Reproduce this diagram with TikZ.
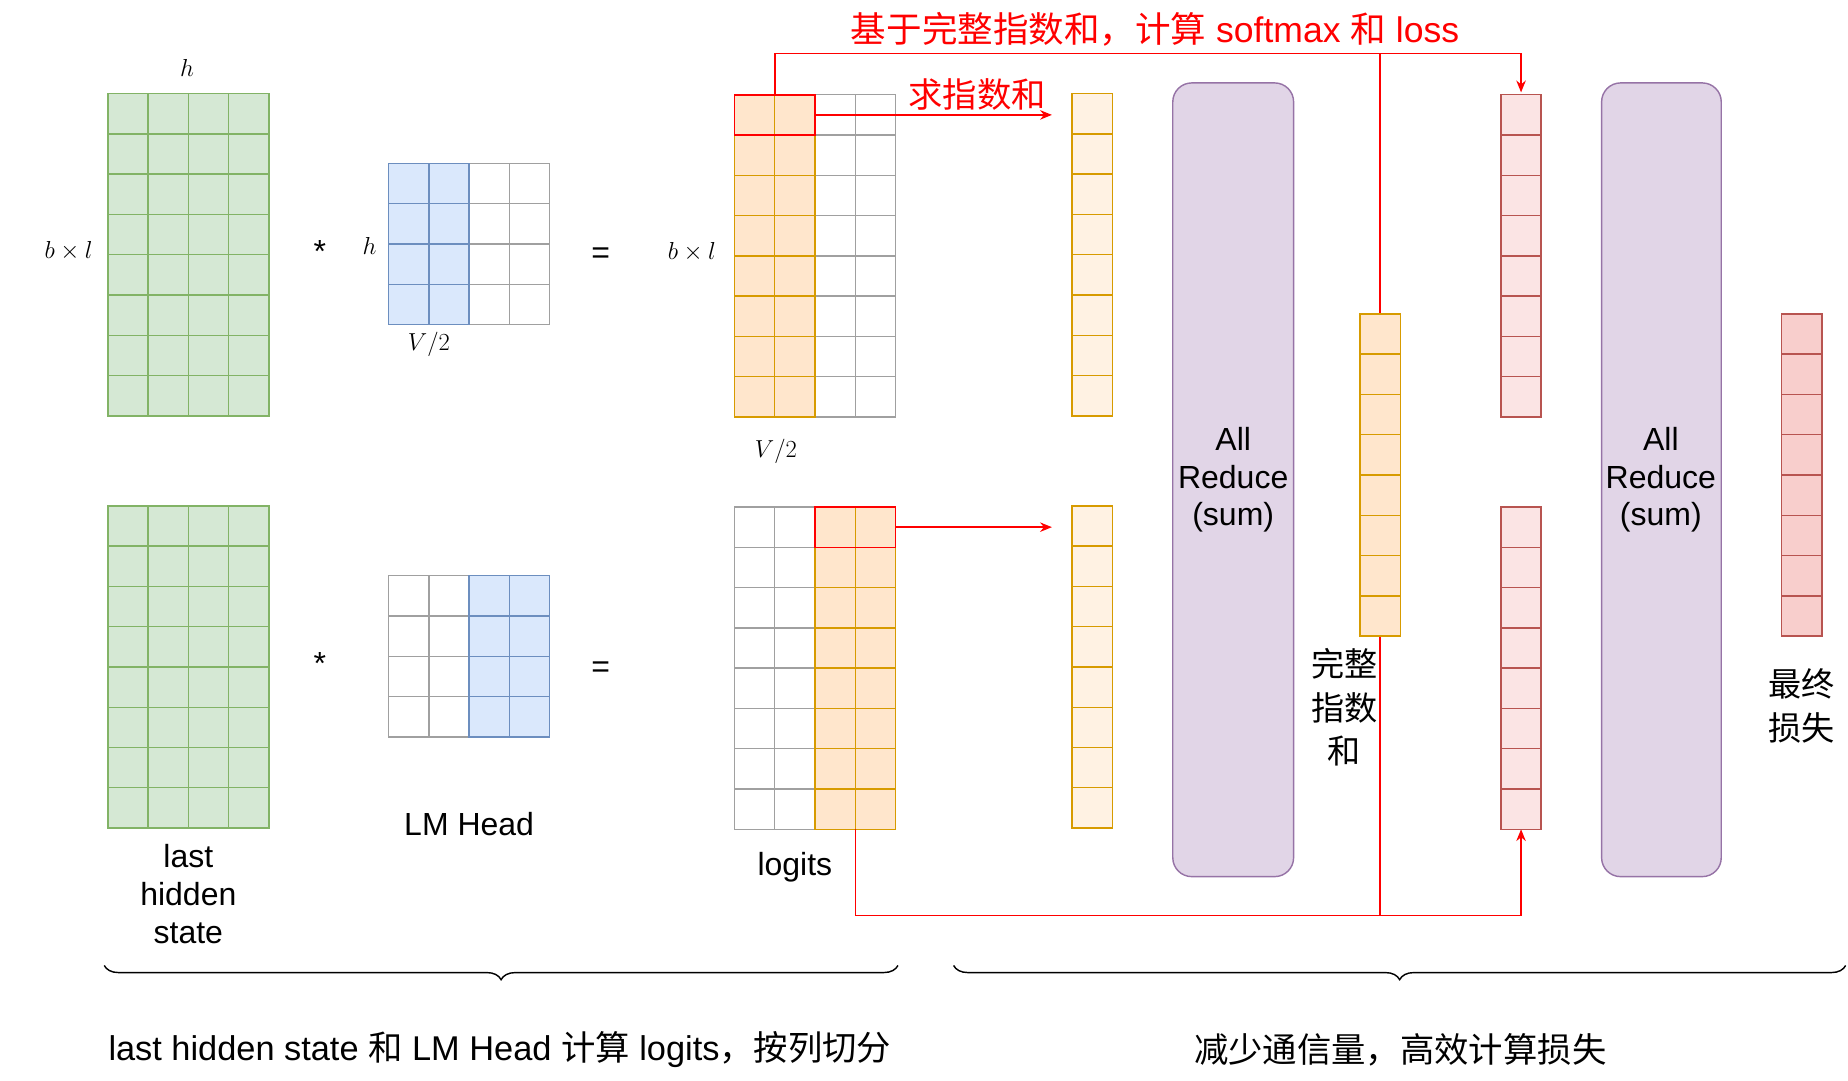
\documentclass[tikz,border=0pt]{standalone}
\usepackage{fontspec}
\setmainfont{Liberation Sans}
\newfontfamily\cjk{Noto Sans CJK SC}
\usetikzlibrary{decorations.pathreplacing,arrows.meta}
\definecolor{gF}{HTML}{D5E8D4}\definecolor{gD}{HTML}{82B366}
\definecolor{bF}{HTML}{DAE8FC}\definecolor{bD}{HTML}{6C8EBF}
\definecolor{oF}{HTML}{FFE6CC}\definecolor{oD}{HTML}{D79B00}
\definecolor{lF}{HTML}{FFF2E3}
\definecolor{rF}{HTML}{F8CECC}\definecolor{rD}{HTML}{B85450}
\definecolor{pF}{HTML}{E1D5E7}\definecolor{pD}{HTML}{9673A6}
\definecolor{wD}{HTML}{A0A0A0}
\definecolor{lr}{HTML}{FBE4E4}
\newcommand\mygrid[6]{% x0 y0 cols rows fill draw
  \foreach \i in {1,...,#3}{\foreach \j in {1,...,#4}{
    \draw[fill=#5,draw=#6,line width=1.2pt] ({#1+(\i-1)*34},{#2+(\j-1)*34}) rectangle ++(34,34);}}}
\begin{document}
\begin{tikzpicture}[x=1pt,y=-1pt,
  txt/.style={font=\fontsize{27}{32}\selectfont,align=center,inner sep=0},
  mth/.style={font=\fontsize{22}{26}\selectfont,inner sep=0},
  red arrow/.style={red,line width=1.3pt,-{Stealth[length=10pt,width=8pt]}},
  redline/.style={red,line width=1.3pt},
  ar/.style={rounded corners=16pt,fill=pF,draw=pD,line width=1.2pt}]
\useasboundingbox (0,0) rectangle (1560,911.7);
% left top
\mygrid{91}{79}{4}{8}{gF}{gD}
\node[mth] (h1) at (158,57) {$h$};
\node[mth] (bl1) at (58,212) {$b\times l$};
\node[txt] (s1) at (270,212) {*};
\mygrid{328}{138}{4}{4}{white}{wD}
\mygrid{328}{138}{2}{4}{bF}{bD}
\node[mth] (h2) at (312,208) {$h$};
\node[mth] (v1) at (362,291) {$V/2$};
\node[txt] (e1) at (507,216) {=};
\node[mth] (bl2) at (584,213) {$b\times l$};
\mygrid{620}{80}{4}{8}{white}{wD}
\mygrid{620}{80}{2}{8}{oF}{oD}
\draw[red,line width=1.3pt] (620,80) rectangle (688,114);
\node[mth] (v2) at (655,381) {$V/2$};
% left bottom
\mygrid{91}{427}{4}{8}{gF}{gD}
\node[txt] (s2) at (270,560) {*};
\mygrid{328}{486}{4}{4}{white}{wD}
\mygrid{396}{486}{2}{4}{bF}{bD}
\node[txt] (e2) at (507,565) {=};
\mygrid{620}{428}{4}{8}{white}{wD}
\mygrid{688}{428}{2}{8}{oF}{oD}
\draw[red,line width=1.3pt] (688,428) rectangle (756,462);
\node[txt] (lhs) at (159,755) {last\\hidden\\state};
\node[txt] (lmh) at (396,696) {LM Head};
\node[txt] (lg) at (671,732) {logits};
% vectors
\mygrid{905}{79}{1}{8}{lF}{oD}
\mygrid{905}{427}{1}{8}{lF}{oD}
\coordinate (t1) at (888,97); \coordinate (t2) at (888,445);
\coordinate (s1a) at (688,97); \coordinate (s2a) at (756,445);
\draw[red arrow] (s1a) -- (t1);
\draw[red arrow] (s2a) -- (t2);
\node[txt,red,font=\fontsize{29}{32}\selectfont\cjk] (qz) at (825,80) {求指数和};
\draw[ar] (990,70) rectangle (1092,740);
\node[txt] (ar1) at (1041,405) {All\\Reduce\\(sum)};
\draw[ar] (1352,70) rectangle (1453,740);
\node[txt] (ar2) at (1402,405) {All\\Reduce\\(sum)};
% red lines
\draw[redline] (1165,45) -- (1165,773);
\draw[red arrow] (654,80) -- (654,45) -- (1284,45) -- (1284,78);
\draw[red arrow] (722,700) -- (722,773) -- (1284,773) -- (1284,700);
\mygrid{1148}{265}{1}{8}{oF}{oD}
\node[txt,font=\fontsize{28}{37}\selectfont\cjk] (wz) at (1135,597) {完整\\指数\\和};
\mygrid{1267}{80}{1}{8}{lr}{rD}
\mygrid{1267}{428}{1}{8}{lr}{rD}
\mygrid{1504}{265}{1}{8}{rF}{rD}
\node[txt,font=\fontsize{28}{37}\selectfont\cjk] (zz) at (1521,596) {最终\\损失};
\node[txt,red,font=\fontsize{30}{34}\selectfont] (title) at (975,25) {{\cjk 基于完整指数和，计算} softmax {\cjk 和} loss};
% braces
\draw[decorate,decoration={brace,mirror,amplitude=12pt},line width=1.2pt] (88,815) -- (758,815);
\draw[decorate,decoration={brace,mirror,amplitude=12pt},line width=1.2pt] (805,815) -- (1558,815);
\node[txt,font=\fontsize{29}{32}\selectfont] (b1) at (422,886) {last hidden state {\cjk 和} LM Head {\cjk 计算} logits{\cjk ，按列切分}};
\node[txt,font=\fontsize{29}{32}\selectfont\cjk] (b2) at (1182,886) {减少通信量，高效计算损失};
\end{tikzpicture}
\end{document}
